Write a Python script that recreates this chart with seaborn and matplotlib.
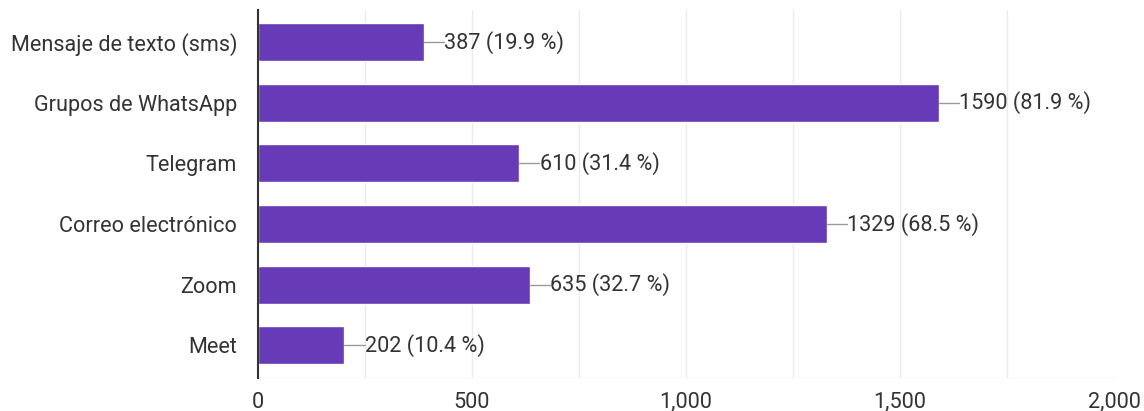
import matplotlib
matplotlib.use("Agg")
import matplotlib.pyplot as plt
import seaborn as sns
import pandas as pd
from matplotlib.ticker import FuncFormatter, MultipleLocator

categories = ["Mensaje de texto (sms)", "Grupos de WhatsApp", "Telegram",
              "Correo electrónico", "Zoom", "Meet"]
counts = [387, 1590, 610, 1329, 635, 202]
percents = [19.9, 81.9, 31.4, 68.5, 32.7, 10.4]

sns.set_theme(style="white")
plt.rcParams['font.family'] = ['Roboto', 'DejaVu Sans']

df = pd.DataFrame({"category": categories, "count": counts})

fig = plt.figure(figsize=(11.44, 4.11), dpi=100)
ax = fig.add_axes([258/1144, 1-378/411, (1114-258)/1144, 368/411])

sns.barplot(data=df, y="category", x="count", orient="h", color="#673ab7",
            saturation=1, width=0.63, ax=ax, zorder=3)

ax.set_xlim(0, 2000)
ax.set_ylim(5.54, -0.53)
ax.xaxis.set_major_locator(MultipleLocator(500))
ax.xaxis.set_minor_locator(MultipleLocator(250))
ax.xaxis.set_major_formatter(FuncFormatter(lambda v, p: f"{int(v):,}"))
ax.grid(axis="x", which="both", color="#ebebeb", linewidth=1, zorder=0)
ax.set_xlabel("")
ax.set_ylabel("")

for s in ["top", "right", "bottom"]:
    ax.spines[s].set_visible(False)
ax.spines["left"].set_color("#333333")
ax.spines["left"].set_linewidth(1.5)
ax.spines["left"].set_zorder(5)
ax.axhline(5.54, color="#ebebeb", linewidth=1, zorder=0)

FS = 15.6
ax.tick_params(axis="both", length=0, labelsize=FS, labelcolor="#333333")
ax.tick_params(axis="x", pad=10)
ax.tick_params(axis="y", pad=15)

for i, (c, p) in enumerate(zip(counts, percents)):
    ax.plot([c, c + 47], [i, i], color="#999999", linewidth=1, zorder=4)
    ax.text(c + 48, i, f"{c} ({p} %)", va="center", ha="left",
            fontsize=FS, color="#333333", zorder=4)

fig.savefig("out.png", dpi=100)
